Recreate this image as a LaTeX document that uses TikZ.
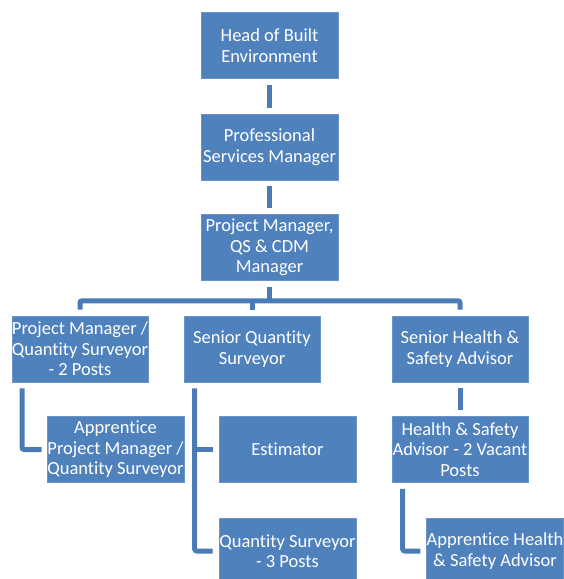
\documentclass[tikz,border=0pt]{standalone}
\usepackage{fontspec}
\setmainfont{Carlito}[Ligatures=NoCommon]
\usetikzlibrary{calc}
\definecolor{boxblue}{HTML}{4F81BD}
\definecolor{lineblue}{HTML}{4A7BB7}
\begin{document}
\begin{tikzpicture}[x=1pt,y=-1pt,
  orgbox/.style={fill=boxblue,draw=boxblue!85!white,line width=0.6pt,minimum width=137pt,minimum height=66pt,
    inner sep=0pt,align=center,text=white,font=\fontsize{18.5}{20.5}\selectfont},
  conn/.style={draw=lineblue,line width=5pt},
  gap/.style={shorten <=6pt,shorten >=6pt}]
\useasboundingbox (0,0) rectangle (564,579);
\node[orgbox] (head) at (269.5,45.5) {Head of Built\\Environment};
\node[orgbox] (prof) at (269.5,147) {Professional\\Services Manager};
\node[orgbox] (pmqs) at (269.5,247.5) {Project Manager,\\QS \& CDM\\Manager};
\node[orgbox,minimum width=136pt] (pmq2) at (80,349) {Project Manager /\\Quantity Surveyor\\- 2 Posts};
\node[orgbox,minimum width=136pt] (sqs) at (252,349) {Senior Quantity\\Surveyor};
\node[orgbox,minimum width=136pt] (shs) at (460,349) {Senior Health \&\\Safety Advisor};
\node[orgbox] (apm) at (115.5,449.5) {Apprentice\\Project Manager /\\Quantity Surveyor};
\node[orgbox] (est) at (287.5,449.5) {Estimator};
\node[orgbox] (qs3) at (287.5,551) {Quantity Surveyor\\- 3 Posts};
\node[orgbox,minimum width=136pt] (hsa) at (460,449.5) {Health \& Safety\\Advisor - 2 Vacant\\Posts};
\node[orgbox,minimum width=136pt] (ahs) at (495,551) {Apprentice Health\\\& Safety Advisor};
% connectors
\draw[conn,gap] (head) -- (prof);
\draw[conn,gap] (prof) -- (pmqs);
\coordinate (bus) at ($(pmqs.south)+(0,20)$);
\draw[conn] ($(pmqs.south)+(0,6)$) -- (bus);
\draw[conn,rounded corners=2pt] ($(pmq2.north)+(0,-6)$) |- (bus) -| ($(shs.north)+(0,-6)$);
\draw[conn] ($(sqs.north)+(0,-6)$) -- (sqs.north |- bus);
\draw[conn,rounded corners=2pt] ($(pmq2.south west)+(10.5,6)$) |- ($(apm.west)+(-5,0)$);
\coordinate (v) at ($(sqs.south west)+(11,6)$);
\draw[conn,rounded corners=2pt] (v) |- ($(qs3.west)+(-6,0)$);
\draw[conn] (v |- est.west) -- ($(est.west)+(-6,0)$);
\draw[conn,gap] (shs) -- (hsa);
\draw[conn,rounded corners=2pt] ($(hsa.south west)+(11,6)$) |- ($(ahs.west)+(-6,0)$);
\end{tikzpicture}
\end{document}
